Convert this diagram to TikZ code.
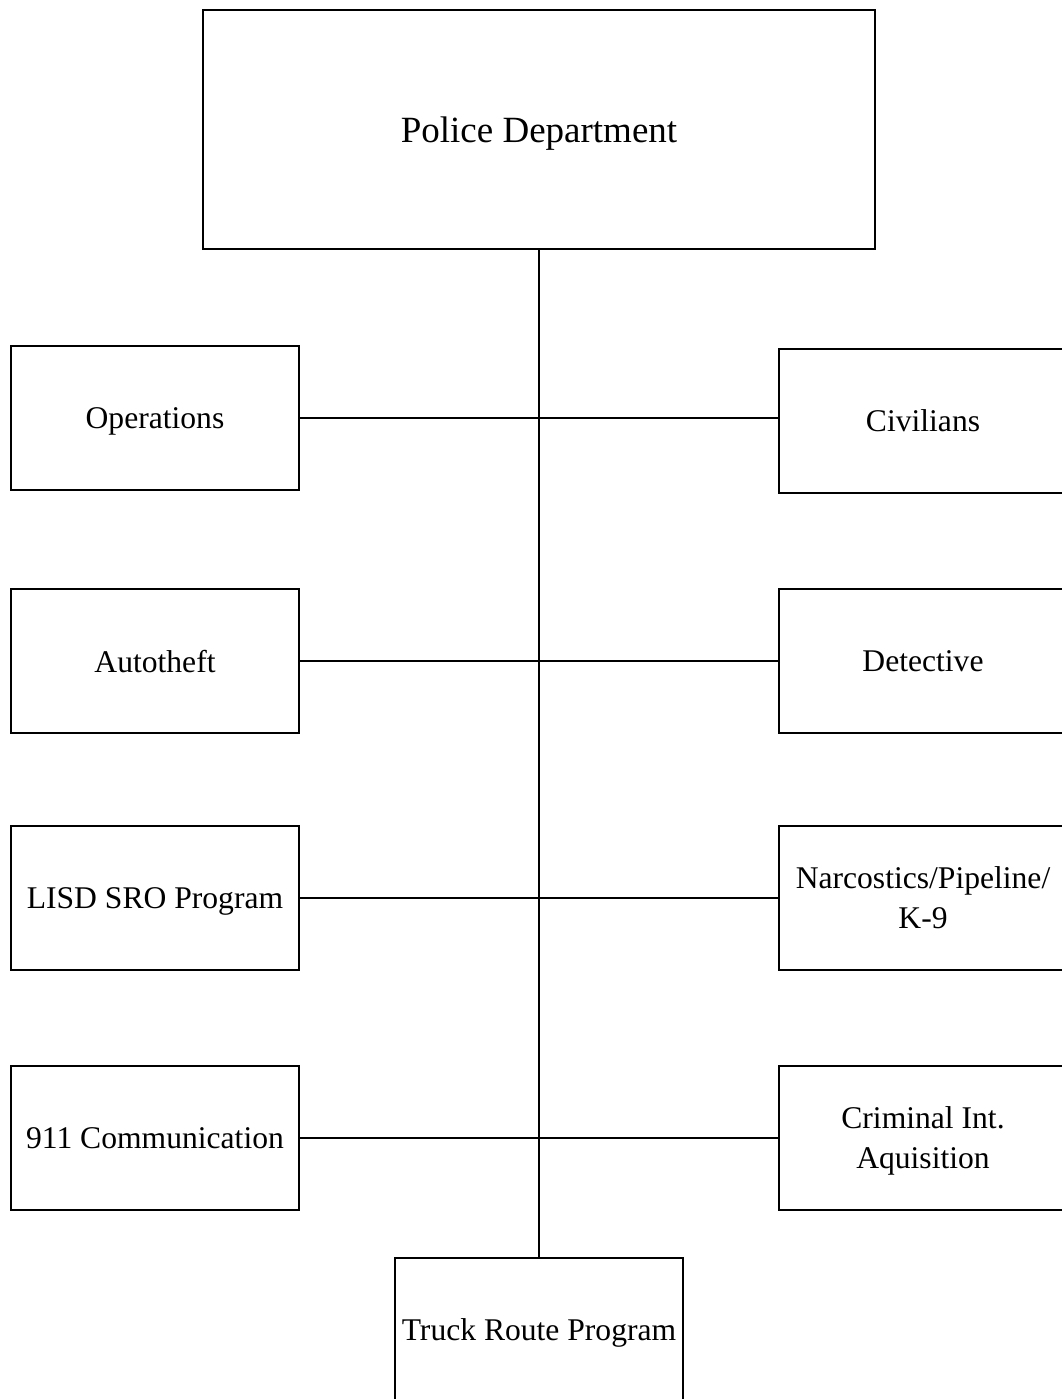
\documentclass[tikz,border=0pt]{standalone}
\usepackage{fontspec}
\setmainfont{Liberation Serif}
\begin{document}
\begin{tikzpicture}[x=1pt,y=-1pt,
  unit/.style={draw, line width=2pt, minimum width=288pt, minimum height=144pt,
    inner sep=2pt, align=center, text depth=0pt,
    font=\fontsize{31.6}{40}\selectfont},
  head/.style={unit, minimum width=672pt, minimum height=239pt,
    font=\fontsize{37}{44}\selectfont},
  link/.style={line width=1.5pt}]
\useasboundingbox (0,0) rectangle (1061,1399);
% head office
\node[head] (pd) at (539,129.5) {Police Department};
% left column
\node[unit] (ops)  at (155,418) {Operations};
\node[unit] (auto) at (155,661) {Autotheft};
\node[unit] (lisd) at (155,898) {LISD SRO Program};
\node[unit] (comm) at (155,1138) {911 Communication};
% right column
\node[unit] (civ)  at (923,421) {Civilians};
\node[unit] (det)  at (923,661) {Detective};
\node[unit] (narc) at (923,898) {Narcostics/Pipeline/\\K-9};
\node[unit] (crim) at (923,1138) {Criminal Int.\\Aquisition};
% bottom
\node[unit] (truck) at (539,1330) {Truck Route Program};
% trunk and branches
\draw[link] (pd.south) -- (truck.north);
\draw[link] (ops.east)  -- (ops.east -| civ.west);
\draw[link] (auto.east) -- (det.west);
\draw[link] (lisd.east) -- (narc.west);
\draw[link] (comm.east) -- (crim.west);
\end{tikzpicture}
\end{document}
